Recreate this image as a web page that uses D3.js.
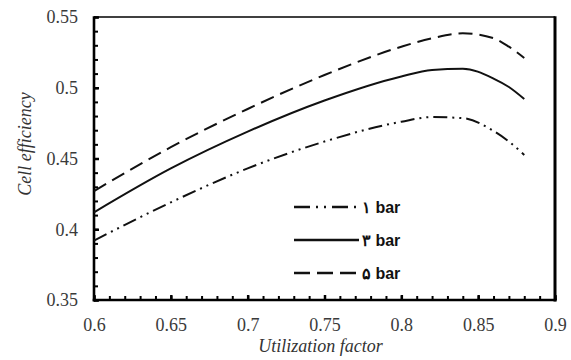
<!DOCTYPE html>
<html><head><meta charset="utf-8">
<script src="https://cdn.jsdelivr.net/npm/d3@7"></script>
</head>
<body style="margin:0">
<svg id="chart" width="571" height="360"></svg>
<script>
const xTicks = [0.6, 0.65, 0.7, 0.75, 0.8, 0.85, 0.9];
const yTicks = [0.35, 0.4, 0.45, 0.5, 0.55];
const xTickLabels = ["0.6", "0.65", "0.7", "0.75", "0.8", "0.85", "0.9"];
const yTickLabels = ["0.35", "0.4", "0.45", "0.5", "0.55"];
const seriesNames = ["۱ bar", "۳ bar", "۵ bar"];
const utilization = [0.6, 0.65, 0.7, 0.75, 0.8, 0.82, 0.84, 0.86, 0.87, 0.88];
const bar1 = [0.392, 0.419, 0.443, 0.462, 0.476, 0.4793, 0.4785, 0.4695, 0.462, 0.4525];
const bar3 = [0.412, 0.443, 0.469, 0.491, 0.508, 0.5125, 0.5135, 0.5065, 0.5005, 0.492];
const bar5 = [0.427, 0.458, 0.485, 0.509, 0.529, 0.535, 0.5385, 0.535, 0.529, 0.521];

const SERIF = "'Liberation Serif', 'Times New Roman', Tinos, serif";
const SANS = "'Liberation Sans', Arial, sans-serif";

const svg = d3.select("#chart");
const L = 94, R = 555, T = 17, B = 300;
const x = d3.scaleLinear().domain([0.6, 0.9]).range([L, R]);
const y = d3.scaleLinear().domain([0.35, 0.55]).range([B, T]);

const minorX = d3.range(60, 91).map(d => d / 100);
const minorY = d3.range(35, 56).map(d => d / 100);

svg.append("g").attr("transform", `translate(0,${B})`)
  .call(d3.axisBottom(x).tickValues(minorX).tickSize(-4).tickFormat(""))
  .call(g => g.select(".domain").remove())
  .call(g => g.selectAll("line").attr("stroke", "#000").attr("stroke-width", 2));
svg.append("g").attr("transform", `translate(${L},0)`)
  .call(d3.axisLeft(y).tickValues(minorY).tickSize(-4).tickFormat(""))
  .call(g => g.select(".domain").remove())
  .call(g => g.selectAll("line").attr("stroke", "#000").attr("stroke-width", 2));

const gx = svg.append("g").attr("transform", `translate(0,${B})`)
  .call(d3.axisBottom(x).tickValues(xTicks).tickSize(-5).tickPadding(18)
    .tickFormat((d, i) => xTickLabels[i]));
gx.select(".domain").remove();
gx.selectAll("line").attr("stroke", "#000").attr("stroke-width", 2.5);
gx.selectAll("text").attr("fill", "#3a3a3a")
  .style("font-family", SERIF, "important").style("font-size", "18px", "important");

const gy = svg.append("g").attr("transform", `translate(${L},0)`)
  .call(d3.axisLeft(y).tickValues(yTicks).tickSize(-5).tickPadding(16)
    .tickFormat((d, i) => yTickLabels[i]));
gy.select(".domain").remove();
gy.selectAll("line").attr("stroke", "#000").attr("stroke-width", 2.5);
gy.selectAll("text").attr("fill", "#3a3a3a")
  .style("font-family", SERIF, "important").style("font-size", "18px", "important");

svg.append("line").attr("x1", L).attr("x2", R).attr("y1", T).attr("y2", T).attr("stroke", "#000").attr("stroke-width", 1.6);
svg.append("line").attr("x1", R).attr("x2", R).attr("y1", T - 0.8).attr("y2", B + 1.5).attr("stroke", "#000").attr("stroke-width", 3);
svg.append("line").attr("x1", L).attr("x2", L).attr("y1", T - 0.8).attr("y2", B + 1.5).attr("stroke", "#000").attr("stroke-width", 2.6);
svg.append("line").attr("x1", L - 1.3).attr("x2", R + 1.5).attr("y1", B).attr("y2", B).attr("stroke", "#000").attr("stroke-width", 2.6);

const styles = [
  { data: bar1, dash: "14,5,2,5,2,5" },
  { data: bar3, dash: null },
  { data: bar5, dash: "14,7" }
];
const line = d3.line().x(d => x(d[0])).y(d => y(d[1])).curve(d3.curveMonotoneX);
styles.forEach(s => {
  svg.append("path")
    .datum(utilization.map((u, i) => [u, s.data[i]]))
    .attr("d", line)
    .attr("fill", "none")
    .attr("stroke", "#111")
    .attr("stroke-width", 2)
    .attr("stroke-dasharray", s.dash);
});

const legY = [207, 240, 273];
styles.forEach((s, i) => {
  svg.append("line").attr("x1", 294).attr("x2", 359)
    .attr("y1", legY[i]).attr("y2", legY[i])
    .attr("stroke", "#111").attr("stroke-width", 2.4)
    .attr("stroke-dasharray", i === 0 ? "16,6,2,6,2,6" : (i === 2 ? "16,7" : null));
  svg.append("text").attr("x", 362).attr("y", legY[i] + 6)
    .style("font-family", SANS, "important")
    .attr("font-weight", "bold").style("font-size", "16px", "important").attr("fill", "#111")
    .text(seriesNames[i]);
});

svg.append("text").attr("x", (L + R) / 2 - 4).attr("y", 352)
  .attr("text-anchor", "middle")
  .style("font-family", SERIF, "important").style("font-style", "italic", "important")
  .style("font-size", "18px", "important").attr("fill", "#333")
  .text("Utilization factor");
svg.append("text")
  .attr("transform", "translate(31,144) rotate(-90)")
  .attr("text-anchor", "middle")
  .style("font-family", SERIF, "important").style("font-style", "italic", "important")
  .style("font-size", "18px", "important").attr("fill", "#333")
  .text("Cell efficiency");
</script>
</body></html>
